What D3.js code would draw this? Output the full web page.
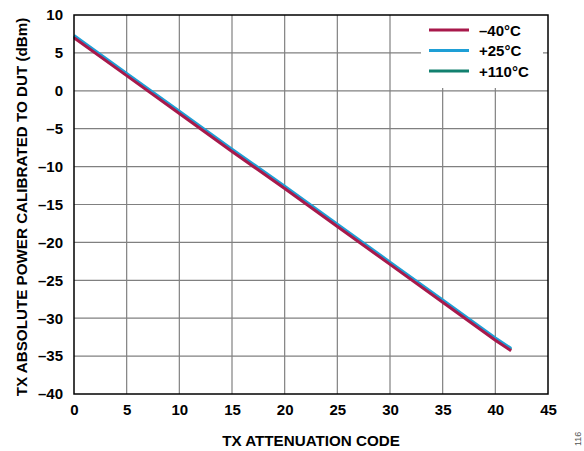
<!DOCTYPE html>
<html><head><meta charset="utf-8">
<script src="https://cdn.jsdelivr.net/npm/d3@7"></script>
<style>body{margin:0;background:#fff}svg{display:block;font-family:"Liberation Sans",Arial,sans-serif}</style>
</head><body><svg id="c" width="584" height="451"></svg>
<script>
const codes = [0, 5, 10, 15, 20, 25, 30, 35, 40, 41.5];
const seriesNames = ["\u201340\u00B0C", "+25\u00B0C", "+110\u00B0C"];
const colors = ["#A8194B", "#1E9FD6", "#12806F"];
const valsM40 = [7.0, 2.0, -3.0, -8.0, -12.9, -17.9, -22.9, -27.9, -32.9, -34.3];
const vals25 = [7.3, 2.3, -2.7, -7.7, -12.6, -17.6, -22.6, -27.6, -32.6, -34.0];
const vals110 = [7.15, 2.15, -2.85, -7.85, -12.75, -17.75, -22.75, -27.75, -32.75, -34.15];
const xTicks = [0,5,10,15,20,25,30,35,40,45];
const yTicks = [10,5,0,-5,-10,-15,-20,-25,-30,-35,-40];

const svg = d3.select("#c");
const L=74, R=548, T=15, B=394;
const x = d3.scaleLinear().domain([0,45]).range([L,R]);
const y = d3.scaleLinear().domain([-40,10]).range([B,T]);
const fmt = v => v<0 ? "\u2013"+Math.abs(v) : String(v);
const FS = 15;

// grid
svg.append("g").selectAll("line").data(xTicks.slice(1,-1)).join("line")
  .attr("x1",d=>x(d)).attr("x2",d=>x(d)).attr("y1",T).attr("y2",B)
  .attr("stroke","#808080").attr("stroke-width",1.2);
svg.append("g").selectAll("line").data(yTicks.slice(1,-1)).join("line")
  .attr("y1",d=>y(d)).attr("y2",d=>y(d)).attr("x1",L).attr("x2",R)
  .attr("stroke","#808080").attr("stroke-width",1.2);

// axes labels via d3 axes
const xa = svg.append("g").attr("transform",`translate(0,${B})`)
  .call(d3.axisBottom(x).tickValues(xTicks).tickSize(0).tickPadding(10).tickFormat(fmt));
xa.select(".domain").remove();
xa.selectAll("text").attr("font-size",FS).attr("font-weight","bold").attr("fill","#000").attr("font-family","Liberation Sans, Arial, sans-serif");
const ya = svg.append("g").attr("transform",`translate(${L},0)`)
  .call(d3.axisLeft(y).tickValues(yTicks).tickSize(0).tickPadding(11).tickFormat(fmt));
ya.select(".domain").remove();
ya.selectAll("text").attr("font-size",FS).attr("font-weight","bold").attr("fill","#000").attr("font-family","Liberation Sans, Arial, sans-serif");

// legend background
svg.append("rect").attr("x",421).attr("y",T).attr("width",R-421-5).attr("height",73).attr("fill","#fff");

// lines
const data = [valsM40, vals25, vals110];
const line = d3.line().x((d,i)=>x(codes[i])).y(d=>y(d));
[2,1,0].forEach(k=>{
  svg.append("path").datum(data[k]).attr("d",line).attr("fill","none")
    .attr("stroke",colors[k]).attr("stroke-width",3);
});

// frame
svg.append("rect").attr("x",L).attr("y",T).attr("width",R-L).attr("height",B-T)
  .attr("fill","none").attr("stroke","#000").attr("stroke-width",1.5);

// legend
seriesNames.forEach((n,i)=>{
  const yy = 30 + i*20.5;
  svg.append("line").attr("x1",429).attr("x2",469).attr("y1",yy).attr("y2",yy)
    .attr("stroke",colors[i]).attr("stroke-width",3);
  svg.append("text").attr("x",479).attr("y",yy+5.5).text(n)
    .attr("font-size",FS).attr("font-weight","bold");
});

// titles
svg.append("text").attr("x",311).attr("y",446).attr("text-anchor","middle")
  .attr("font-size",15.2).attr("font-weight","bold").text("TX ATTENUATION CODE");
svg.append("text").attr("transform","translate(27,207) rotate(-90)").attr("text-anchor","middle")
  .attr("font-size",15.2).attr("font-weight","bold").text("TX ABSOLUTE POWER CALIBRATED TO DUT (dBm)");
svg.append("text").attr("transform","translate(581,446) rotate(-90)").attr("text-anchor","start")
  .attr("font-size",9).attr("fill","#555").text("116");
</script></body></html>
